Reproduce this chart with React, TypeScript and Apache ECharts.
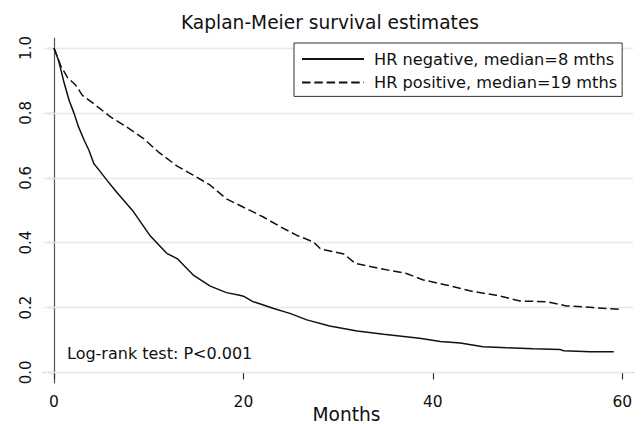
import React, { useEffect, useRef } from "react";
import * as echarts from "echarts";

const titleText = "Kaplan-Meier survival estimates";
const xName = "Months";
const seriesNames = ["HR negative, median=8 mths", "HR positive, median=19 mths"];
const noteText = "Log-rank test: P<0.001";

const xTicks = [0, 20, 40, 60];
const yTicks = [0, 0.2, 0.4, 0.6, 0.8, 1.0];

const hrNegTime = [0, 0.5, 1.0, 1.6, 2.1, 2.6, 3.2, 3.7, 4.2, 4.8, 5.6, 6.3, 6.6, 8.4, 10.1, 11.9, 13.0, 14.7, 16.5, 18.2, 19.6, 20.0, 21.0, 21.4, 23.2, 24.9, 26.7, 29.1, 32.0, 34.8, 38.6, 40.8, 42.9, 45.3, 47.8, 50.6, 53.4, 53.8, 56.6, 59.1];
const hrNegSurv = [1.0, 0.96, 0.9, 0.838, 0.8, 0.756, 0.715, 0.684, 0.644, 0.622, 0.592, 0.567, 0.556, 0.495, 0.423, 0.367, 0.351, 0.3, 0.266, 0.246, 0.238, 0.235, 0.218, 0.215, 0.197, 0.182, 0.162, 0.143, 0.128, 0.118, 0.105, 0.095, 0.091, 0.079, 0.076, 0.073, 0.071, 0.067, 0.064, 0.064];

const hrPosTime = [0, 0.7, 1.4, 2.3, 3.0, 4.2, 6.0, 7.7, 9.5, 11.0, 13.0, 14.7, 16.5, 18.2, 18.9, 20.3, 22.1, 23.9, 25.6, 27.4, 28.1, 28.5, 30.6, 31.8, 34.4, 37.2, 39.0, 41.5, 44.3, 46.7, 49.2, 52.0, 54.1, 56.9, 59.8];
const hrPosSurv = [1.0, 0.946, 0.91, 0.885, 0.854, 0.828, 0.787, 0.756, 0.72, 0.68, 0.636, 0.608, 0.577, 0.535, 0.525, 0.505, 0.479, 0.449, 0.423, 0.402, 0.382, 0.378, 0.365, 0.336, 0.32, 0.305, 0.285, 0.269, 0.249, 0.238, 0.22, 0.218, 0.205, 0.2, 0.194];

const FONT = "DejaVu Sans";
const INK = "#111111";

export default function App() {
  const ref = useRef<HTMLDivElement>(null);
  useEffect(() => {
    if (!ref.current) return;
    const chart = echarts.init(ref.current, null, { renderer: "svg" });
    const option = {
      animation: false,
      backgroundColor: "#ffffff",
      title: {
        text: titleText,
        left: 176,
        top: 8,
        textStyle: { fontFamily: FONT, fontSize: 18.6, fontWeight: "normal", color: INK },
      },
      grid: { left: 44, right: 11, top: 38, bottom: 41, containLabel: false, outerBoundsMode: "none" },
      legend: {
        orient: "vertical",
        left: 294,
        top: 43,
        itemWidth: 62,
        itemHeight: 18,
        itemGap: 5.4,
        padding: [7, 5, 5, 7],
        borderColor: "#333333",
        borderWidth: 1,
        borderRadius: 0,
        backgroundColor: "#ffffff",
        itemStyle: { opacity: 0, borderWidth: 0 },
        textStyle: { fontFamily: FONT, fontSize: 16.2, color: INK, lineHeight: 18, padding: [0, 0, 0, 5] },
        data: seriesNames,
      },
      xAxis: {
        type: "value",
        min: -1.056,
        max: 61.13,
        name: xName,
        nameLocation: "middle",
        nameGap: 22,
        nameMoveOverlap: false,
        nameTextStyle: { fontFamily: FONT, fontSize: 18.6, lineHeight: 18, color: INK, padding: [0, 0, 0, 16] },
        axisLine: { show: true, lineStyle: { color: "#333333", width: 1.2 } },
        axisTick: { show: true, length: 7, inside: false, customValues: xTicks, lineStyle: { color: "#333333", width: 1.2 } },
        axisLabel: { customValues: xTicks, margin: 11, fontFamily: FONT, fontSize: 15.5, color: INK },
        splitLine: { show: false },
      },
      yAxis: {
        type: "value",
        min: -0.0326,
        max: 1.0308,
        axisLine: { show: true, lineStyle: { color: "#555555", width: 1.2 } },
        axisTick: { show: true, length: 6, inside: false, customValues: yTicks, lineStyle: { color: "#444444", width: 1.2 } },
        axisLabel: {
          customValues: yTicks,
          rotate: 90,
          margin: 11,
          fontFamily: FONT,
          fontSize: 15,
          color: INK,
          formatter: (v: number) => v.toFixed(1),
        },
        splitLine: { show: false },
      },
      graphic: [
        {
          type: "text",
          x: 67,
          y: 353,
          style: { text: noteText, fontFamily: FONT, fontSize: 16, fill: INK, verticalAlign: "middle" },
        },
      ],
      series: [
        {
          name: seriesNames[0],
          type: "line",
          symbol: "none",
          z: 3,
          lineStyle: { color: INK, width: 1.5, type: "solid" },
          itemStyle: { color: INK },
          data: hrNegTime.map((t, i) => [t, hrNegSurv[i]]),
          markLine: {
            silent: true,
            symbol: "none",
            z: 1,
            label: { show: false },
            lineStyle: { color: "#e8e8e8", type: "solid", width: 1.3 },
            emphasis: { disabled: true },
            data: yTicks.map((v) => ({ yAxis: v })),
          },
        },
        {
          name: seriesNames[1],
          type: "line",
          symbol: "none",
          z: 3,
          lineStyle: { color: INK, width: 1.5, type: [8.5, 3.8] },
          itemStyle: { color: INK },
          data: hrPosTime.map((t, i) => [t, hrPosSurv[i]]),
        },
      ],
    };
    chart.setOption(option as any);
    return () => chart.dispose();
  }, []);
  return <div ref={ref} style={{ position: "fixed", left: 0, top: 0, width: 644, height: 424 }} />;
}
